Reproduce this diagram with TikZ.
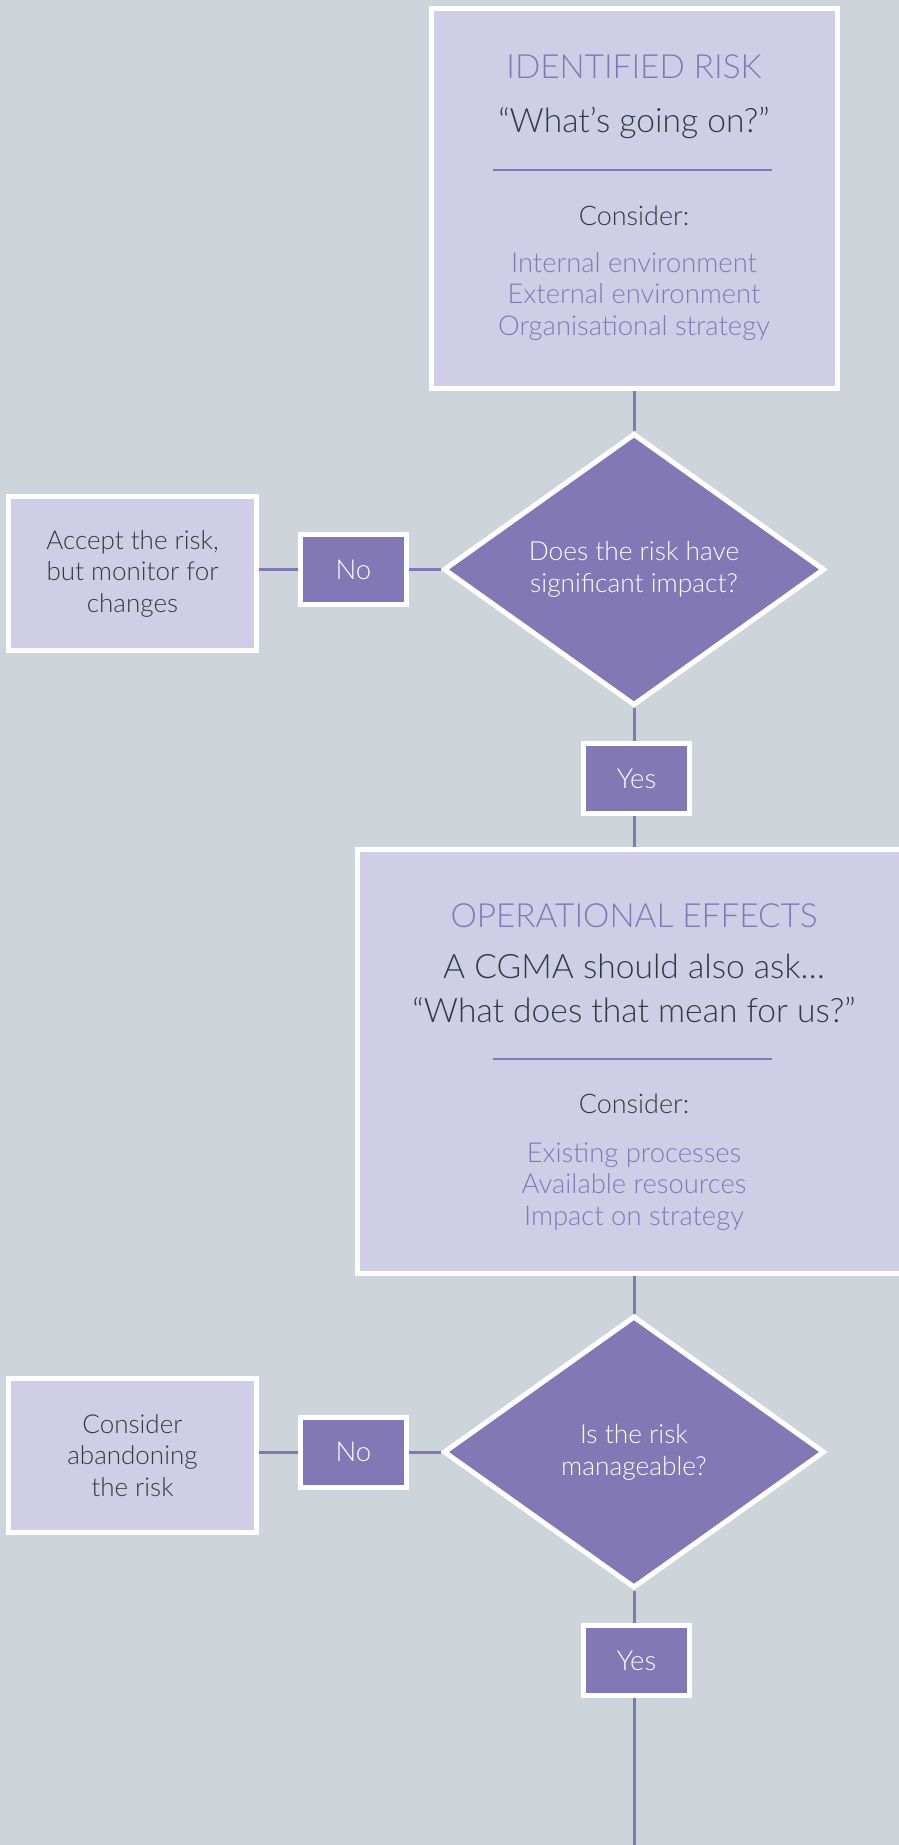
\documentclass[tikz,border=0pt]{standalone}
\usepackage{fontspec}
\IfFontExistsTF{Lato Light}{\setmainfont{Lato Light}}{\setmainfont{Lato}}
\usetikzlibrary{shapes.geometric}
\definecolor{bgc}{HTML}{CDD4DA}
\definecolor{lav}{HTML}{D0CEE6}
\definecolor{purp}{HTML}{8278B6}
\definecolor{dark}{HTML}{2E3B40}
\tikzset{
  bigbox/.style={draw=white, line width=5pt, fill=lav, inner sep=0pt},
  sidebox/.style={draw=white, line width=5pt, fill=lav, inner sep=0pt,
    minimum width=248pt, minimum height=154pt, align=center, text=dark,
    font=\fontsize{26}{31.5}\selectfont},
  tag/.style={draw=white, line width=5pt, fill=purp, inner sep=0pt,
    minimum width=106pt, minimum height=70pt, text=white,
    font=\fontsize{27.5}{30}\selectfont},
  decision/.style={diamond, draw=white, line width=5pt, fill=purp, inner sep=0pt,
    minimum width=381pt, minimum height=272pt, align=center, text=white,
    font=\fontsize{26.3}{32}\selectfont},
  conn/.style={draw=purp, line width=3pt},
  rule/.style={draw=purp, line width=2pt},
  title/.style={anchor=base, text=purp, inner sep=0pt, font=\fontsize{33.3}{36}\selectfont},
  question/.style={anchor=base, text=dark, inner sep=0pt, font=\fontsize{33.6}{38}\selectfont},
  cons/.style={anchor=base, text=dark, inner sep=0pt, font=\fontsize{27}{30}\selectfont},
  item/.style={anchor=base, text=purp, inner sep=0pt, font=\fontsize{27.4}{30}\selectfont},
}
\begin{document}
\begin{tikzpicture}[x=1pt, y=-1pt]
\useasboundingbox (0,0) rectangle (899,1845);
\clip (0,0) rectangle (899,1845);
\fill[bgc] (0,0) rectangle (899,1845);

% ---- Identified risk box
\node[bigbox, minimum width=406pt, minimum height=380pt] (risk) at (634,198.5) {};
\node[title] (risktitle) at (634,78) {IDENTIFIED RISK};
\node[question] (riskq) at (634,132) {“What’s going on?”};
\draw[rule] (493,170) -- (772,170);
\node[cons] (riskcons) at (634,225) {Consider:};
\node[item] (riski1) at (634,272) {Internal environment};
\node[item] (riski2) at (634,303.5) {External environment};
\node[item] (riski3) at (634,335) {Organisational strategy};

% ---- first decision
\node[decision] (d1) at (634,569.5) {Does the risk have\\significant impact?};
\node[tag] (no1) at (353.5,569.5) {No};
\node[sidebox] (acc) at (132.5,573.5) {Accept the risk,\\but monitor for\\changes};
\node[tag] (yes1) at (636.5,778.5) {Yes};

% ---- Operational effects box
\node[bigbox, minimum width=553pt, minimum height=424pt] (ops) at (634,1061.5) {};
\node[title] (opstitle) at (634,927) {OPERATIONAL EFFECTS};
\node[question] (opsq1) at (634,978) {A CGMA should also ask…};
\node[question] (opsq2) at (634,1022) {“What does that mean for us?”};
\draw[rule] (493,1059) -- (772,1059);
\node[cons] (opscons) at (634,1113) {Consider:};
\node[item] (opsi1) at (634,1162) {Existing processes};
\node[item] (opsi2) at (634,1193.5) {Available resources};
\node[item] (opsi3) at (634,1225) {Impact on strategy};

% ---- second decision
\node[decision] (d2) at (634,1452) {Is the risk\\manageable?};
\node[tag] (no2) at (353.5,1452) {No};
\node[sidebox] (aband) at (132.5,1455.5) {Consider\\abandoning\\the risk};
\node[tag] (yes2) at (636.5,1660.5) {Yes};
\coordinate (bottom) at (634,1850);

% ---- connectors
\draw[conn] (risk.south) -- (d1.north);
\draw[conn] (no1.west -| acc.east) -- (no1.west);
\draw[conn] (no1.east) -- (d1.west);
\draw[conn] (d1.south) -- (yes1.north -| d1.south);
\draw[conn] (yes1.south -| ops.north) -- (ops.north);
\draw[conn] (ops.south) -- (d2.north);
\draw[conn] (no2.west -| aband.east) -- (no2.west);
\draw[conn] (no2.east) -- (d2.west);
\draw[conn] (d2.south) -- (yes2.north -| d2.south);
\draw[conn] (yes2.south -| bottom) -- (bottom);
\end{tikzpicture}
\end{document}
